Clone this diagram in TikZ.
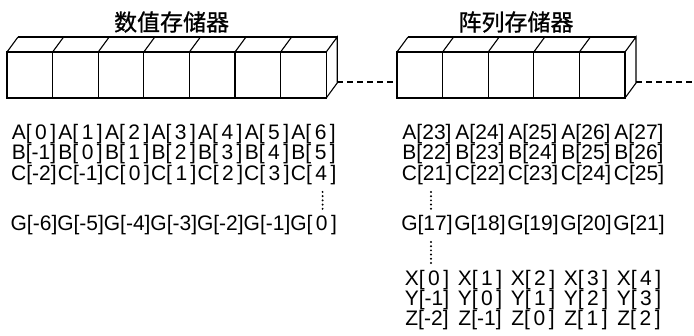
\documentclass[tikz,border=0pt]{standalone}
\usepackage{fontspec}
\setmainfont{Liberation Sans}
\newfontfamily\cjkfont[FakeBold=0.9]{Noto Sans CJK SC}
\usetikzlibrary{calc,positioning}
\definecolor{ink}{HTML}{000000}
\definecolor{paper}{HTML}{FFFFFF}
\newcommand{\padidx}[1]{\ifnum#1<0 #1\else\ifnum#1>9 #1\else\,#1\,\fi\fi}
\tikzset{
  cellline/.style={draw=ink,line width=1.1pt,line join=miter},
  linkdash/.style={draw=ink,line width=1.1pt,dash pattern=on 6pt off 4pt},
  memtitle/.style={font=\cjkfont\fontsize{23}{27}\selectfont,inner sep=0pt},
  idxlabel/.style={font=\fontsize{21}{25}\selectfont,inner sep=0pt},
  vdotline/.style={draw=ink,line width=2.2pt,line cap=round,dash pattern=on 0pt off 4.2pt}
}

\begin{document}
\begin{tikzpicture}[x=1pt,y=-1pt]
  \useasboundingbox[fill=paper] (0,0) rectangle (694,335);
  \foreach \name/\xa/\n/\title in {num/7/7/数值存储器,arr/397/5/阵列存储器} {
    \pgfmathsetmacro{\xb}{\xa+45.6*\n}
    \foreach \c in {1,...,\n} {
      \pgfmathsetmacro{\cx}{\xa+45.6*(\c-1)}
      \draw[cellline] (\cx,52) rectangle ++(45.6,46);
      \draw[cellline] (\cx,52) -- ++(11,-15);
    }
    \draw[cellline] (\xa+11,37) -- (\xb+11,37);
    \draw[cellline] (\xb,52) -- (\xb+11,37) -- (\xb+11,83) -- (\xb,98);
    \coordinate (\name-in) at (\xa,82);
    \coordinate (\name-out) at (\xb+11,82);
    \node[memtitle] (\name-title) at ({(\xa+\xb)/2+5},22) {\title};
  }
  \coordinate (edge) at (694,82);
  \draw[linkdash] (num-out) -- (arr-in);
  \draw[linkdash] (arr-out) -- (edge);

  \foreach \r/\y/\off in {A/134/0,B/154.5/-1,C/175/-2,G/225/-6} {
    \foreach \k in {0,...,6} {
      \pgfmathtruncatemacro{\i}{\k+\off}
      \node[idxlabel] (l\r\k) at (34+46.6*\k,\y) {\r[\padidx{\i}]};
    }
  }
  \foreach \r/\y/\off in {A/134/23,B/154.5/22,C/175/21,G/225/17,X/280/0,Y/300/-1,Z/320/-2} {
    \foreach \k in {0,...,4} {
      \pgfmathtruncatemacro{\i}{\k+\off}
      \node[idxlabel] (r\r\k) at (427+53*\k,\y) {\r[\padidx{\i}]};
    }
  }
  \draw[vdotline] ([xshift=9pt,yshift=-7pt]lC6.south) -- ([xshift=9pt,yshift=4pt]lG6.north);
  \draw[vdotline] ([xshift=4pt,yshift=-7pt]rC0.south) -- ([xshift=4pt,yshift=4pt]rG0.north);
  \draw[vdotline] ([xshift=4pt,yshift=-7pt]rG0.south) -- ([xshift=4pt,yshift=4pt]rX0.north);
\end{tikzpicture}
\end{document}
